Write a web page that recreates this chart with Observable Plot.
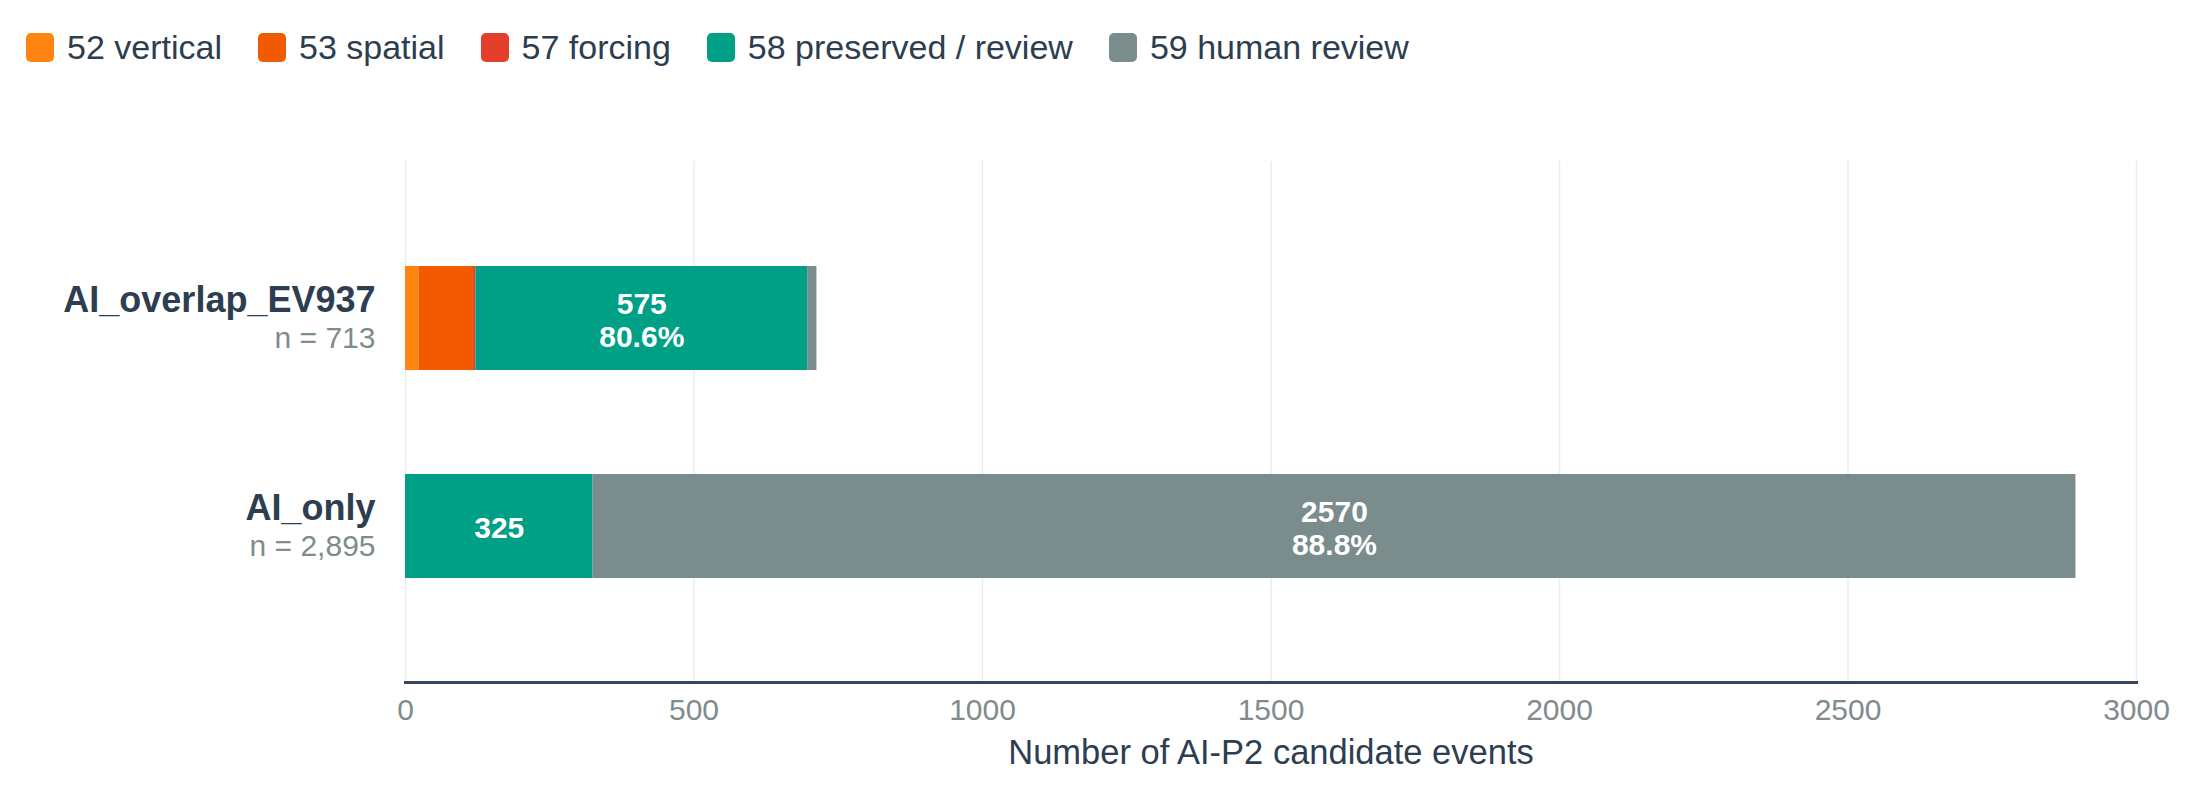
<!DOCTYPE html>
<html><head><meta charset="utf-8">
<script src="https://cdn.jsdelivr.net/npm/d3@7"></script>
<script src="https://cdn.jsdelivr.net/npm/@observablehq/plot@0.6"></script>
<style>
body{margin:0;background:#fff;font-family:"Liberation Sans",Arial,sans-serif;}
#legend{height:94px;display:flex;align-items:center;padding-left:26px;box-sizing:border-box;}
.item{display:flex;align-items:center;margin-right:36px;font-size:34px;color:#2c3e50;}
.sw{width:28px;height:29px;border-radius:5px;margin-right:13px;}
</style></head><body>
<div id="legend"></div><div id="chart"></div>
<script>
const groups = ["AI_overlap_EV937", "AI_only"];
const categories = ["52 vertical", "53 spatial", "57 forcing", "58 preserved / review", "59 human review"];
const overlapCounts = [24, 94, 4, 575, 16];
const aiOnlyCounts = [0, 0, 0, 325, 2570];
const colors = ["#ff8412", "#f25a00", "#e53e2b", "#00a087", "#7a8c8c"];
const xTicks = [0, 500, 1000, 1500, 2000, 2500, 3000];
const xLabel = "Number of AI-P2 candidate events";

const counts = [overlapCounts, aiOnlyCounts];
const totals = counts.map(c => d3.sum(c));
const rows = groups.flatMap((g, gi) => categories.map((c, ci) => ({
  group: g, category: c, value: counts[gi][ci], total: totals[gi]
})));

function segLabel(d) {
  const share = d.value / d.total;
  if (d.value < 200) return null;
  if (share >= 0.5) return `${d.value}\n${(share * 100).toFixed(1)}%`;
  return `${d.value}`;
}

// legend
const legend = document.getElementById("legend");
categories.forEach((c, i) => {
  const it = document.createElement("div");
  it.className = "item";
  const sw = document.createElement("div");
  sw.className = "sw";
  sw.style.background = colors[i];
  const t = document.createElement("span");
  t.textContent = c;
  it.appendChild(sw); it.appendChild(t);
  legend.appendChild(it);
});

const chart = Plot.plot({
  width: 2196,
  height: 700,
  marginTop: 67,
  marginBottom: 112,
  marginLeft: 405,
  marginRight: 60,
  style: {fontFamily: "'Liberation Sans', Arial, sans-serif", background: "white"},
  x: {domain: [0, 3000]},
  y: {domain: groups, padding: 0.5, axis: null},
  color: {domain: categories, range: colors},
  marks: [
    Plot.gridX(xTicks, {stroke: "#e9edef", strokeOpacity: 1, strokeWidth: 1.5}),
    Plot.barX(rows, Plot.stackX({x: "value", y: "group", fill: "category", order: categories, inset: 0})),
    Plot.text(rows, Plot.stackX({
      x: "value", y: "group", z: "category", order: categories,
      text: segLabel, fill: "white", fontWeight: "bold", fontSize: 30,
      lineHeight: 1.11, lineAnchor: "middle", dy: 1
    })),
    Plot.frame({anchor: "bottom", stroke: "#34495e", strokeWidth: 3}),
    Plot.axisX(xTicks, {tickSize: 0, tickPadding: 16, fontSize: 30, color: "#7f8c8d", label: null, tickFormat: d => String(d)}),
    Plot.text([xLabel], {frameAnchor: "bottom", dy: 81, lineAnchor: "bottom", fontSize: 34.5, fill: "#2c3e50"}),
    Plot.text(groups, {y: d => d, text: d => d, frameAnchor: "left", textAnchor: "end", dx: -30, dy: -6.5,
      lineAnchor: "bottom", fontWeight: "bold", fontSize: 36, fill: "#2c3e50"}),
    Plot.text(groups, {y: d => d, text: (d, i) => `n = ${totals[i].toLocaleString("en-US")}`, frameAnchor: "left",
      textAnchor: "end", dx: -30, dy: 29.5, lineAnchor: "bottom", fontSize: 30, fill: "#7f8c8d"})
  ]
});
document.getElementById("chart").appendChild(chart);
</script></body></html>
